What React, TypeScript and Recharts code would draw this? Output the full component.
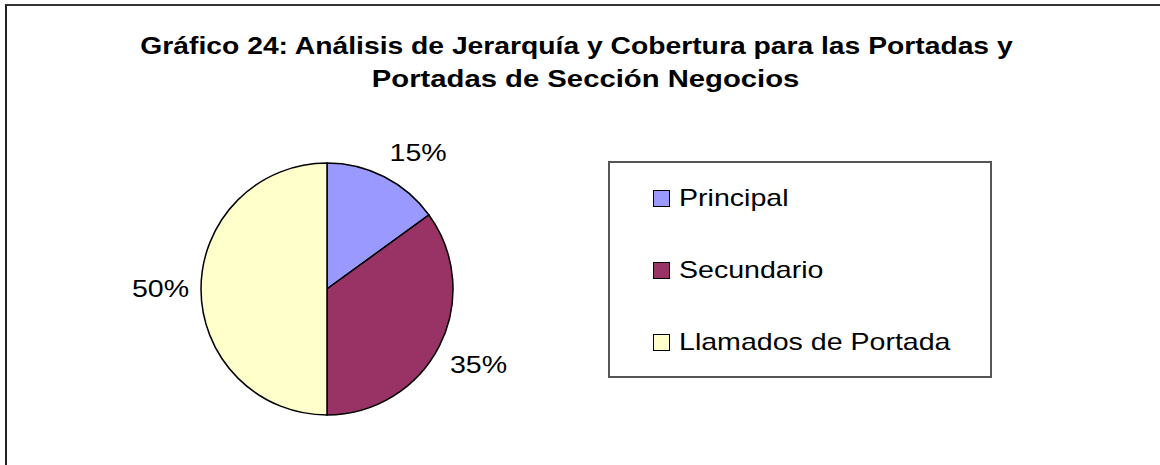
import { Legend, Pie, PieChart, Cell } from 'recharts';

const categories = ['Principal', 'Secundario', 'Llamados de Portada'];
const shares = [15, 35, 50];
const colors = ['#9999FF', '#993366', '#FFFFCC'];
const titleLines = [
  'Gráfico 24: Análisis de Jerarquía y Cobertura para las Portadas y',
  'Portadas de Sección Negocios',
];

const data = categories.map((name, i) => ({ name, value: shares[i] }));

const FONT = 'Arial, "Liberation Sans", sans-serif';
const STRETCH = 1.19;
const RADIAN = Math.PI / 180;

// labels sit outside the pie, with their nearest corner on a ring just past the edge
function PctLabel(props: any) {
  const { cx, cy, midAngle, outerRadius, percent } = props;
  const text = `${Math.round(percent * 100)}%`;
  const w = text.length * 19;
  const h = 26;
  const r = outerRadius + 12;
  const cos = Math.cos(-midAngle * RADIAN);
  const sin = Math.sin(-midAngle * RADIAN);
  const sx = Math.abs(cos) < 0.05 ? 0 : Math.sign(cos);
  const sy = Math.abs(sin) < 0.05 ? 0 : Math.sign(sin);
  const x = cx + r * cos + (w / 2) * sx;
  const y = cy + r * sin + (h / 2) * sy;
  return (
    <text
      transform={`translate(${x},${y}) scale(${STRETCH},1)`}
      textAnchor="middle"
      dominantBaseline="central"
      fontFamily={FONT}
      fontSize={24}
      fill="#000"
    >
      {text}
    </text>
  );
}

function LegendBox({ payload }: any) {
  // keep the series order, not the alphabetical one
  const items = [...(payload || [])].sort(
    (a: any, b: any) => categories.indexOf(a.value) - categories.indexOf(b.value),
  );
  return (
    <div
      style={{
        width: 384,
        height: 217,
        border: '2px solid #555',
        boxSizing: 'border-box',
        background: '#fff',
        position: 'relative',
      }}
    >
      {items.map((p: any, i: number) => (
        <div
          key={p.value}
          style={{ position: 'absolute', left: 43, top: 35 - 12 + i * 72, height: 24, display: 'flex', alignItems: 'center' }}
        >
          <span
            style={{
              width: 15,
              height: 15,
              background: colors[categories.indexOf(p.value)],
              border: '1.5px solid #000',
              display: 'inline-block',
              marginRight: 9,
            }}
          />
          <span
            style={{
              fontFamily: FONT,
              fontSize: 24,
              color: '#000',
              display: 'inline-block',
              transform: `scaleX(${STRETCH})`,
              transformOrigin: 'left center',
              whiteSpace: 'nowrap',
            }}
          >
            {p.value}
          </span>
        </div>
      ))}
    </div>
  );
}

export default function App() {
  return (
    <div style={{ position: 'absolute', left: 0, top: 0, width: 1160, height: 465, background: '#fff', overflow: 'hidden' }}>
      <div
        style={{
          position: 'absolute',
          left: 5,
          top: 4,
          width: 1160,
          height: 470,
          borderTop: '2px solid #333',
          borderLeft: '2px solid #222',
        }}
      />
      {titleLines.map((t, i) => (
        <div
          key={i}
          style={{
            position: 'absolute',
            left: 0,
            width: 1160,
            top: 32 + i * 33,
            textAlign: 'center',
            fontFamily: FONT,
            fontWeight: 'bold',
            fontSize: 23.75,
            lineHeight: '28px',
            color: '#000',
          }}
        >
          <span
            style={{
              display: 'inline-block',
              transform: `scaleX(${i === 0 ? STRETCH : STRETCH * 1.035})`,
              marginLeft: i === 0 ? -6 : 12,
            }}
          >
            {t}
          </span>
        </div>
      ))}
      <div style={{ position: 'absolute', left: 0, top: 0 }}>
        <PieChart width={1160} height={465} margin={{ top: 0, right: 0, bottom: 0, left: 0 }}>
          <Pie
            data={data}
            dataKey="value"
            nameKey="name"
            cx={327}
            cy={289}
            outerRadius={126}
            startAngle={90}
            endAngle={-270}
            stroke="#000"
            strokeWidth={1.5}
            label={PctLabel}
            labelLine={false}
            isAnimationActive={false}
          >
            {data.map((d, i) => (
              <Cell key={d.name} fill={colors[i]} />
            ))}
          </Pie>
          <Legend
            layout="vertical"
            content={<LegendBox />}
            wrapperStyle={{ position: 'absolute', left: 608, top: 161, width: 384, height: 217 }}
          />
        </PieChart>
      </div>
    </div>
  );
}
